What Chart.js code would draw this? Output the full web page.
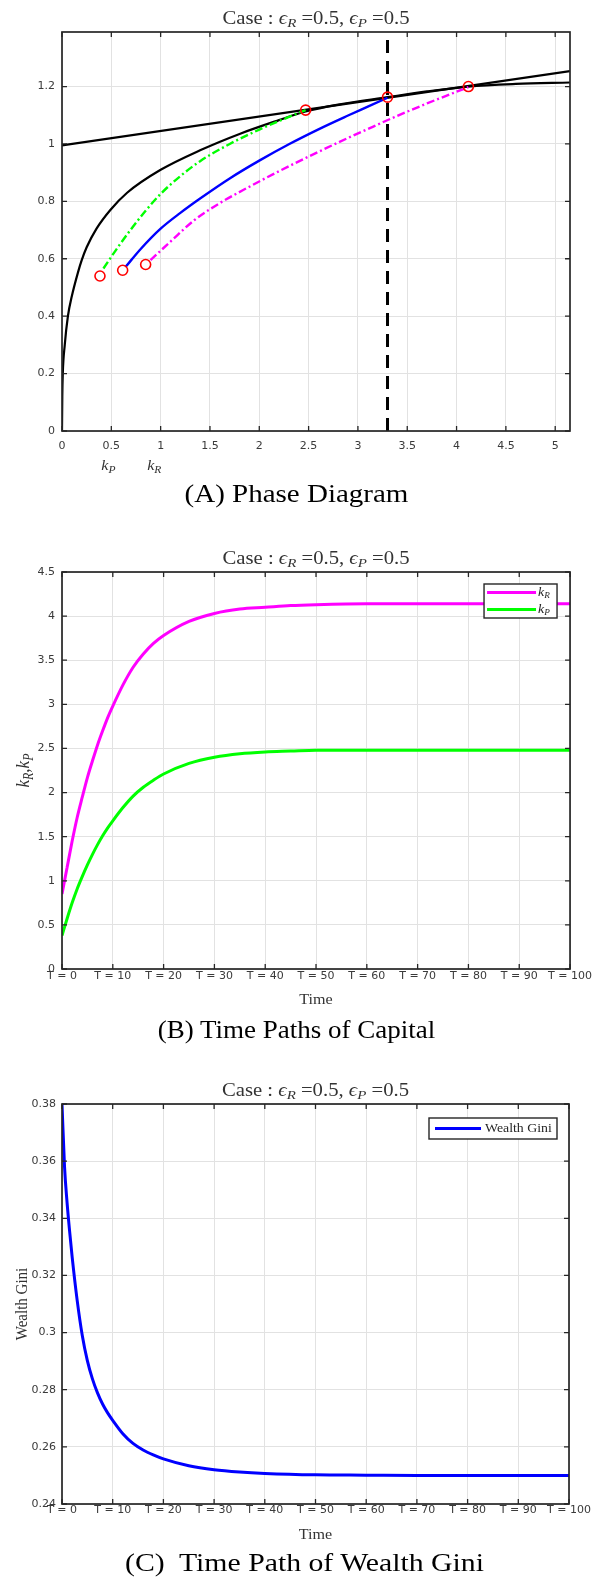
<!DOCTYPE html>
<html>
<head>
<meta charset="utf-8">
<title>Phase diagram and time paths</title>
<script src="https://cdn.jsdelivr.net/npm/chart.js@4.4.1/dist/chart.umd.min.js"></script>
<style>
    body { margin: 0; background: #fff; }
    .page { position: relative; width: 593px; height: 1580px; overflow: hidden; }
    canvas { position: absolute; left: 0; }
    .caption {
        position: absolute; left: 0; width: 593px; text-align: center;
        font-family: "Liberation Serif", "Times New Roman", serif;
        font-size: 25px; line-height: 30px; color: #000;
        transform: scaleX(1.16);
    }
</style>
</head>
<body>
<div class="page">
    <canvas id="phaseChart" width="593" height="480" style="top:0px"></canvas>
    <canvas id="capitalChart" width="593" height="490" style="top:530px"></canvas>
    <canvas id="giniChart" width="593" height="490" style="top:1060px"></canvas>
    <div class="caption" style="top:479px">(A) Phase Diagram</div>
    <div class="caption" style="top:1015px; transform: scaleX(1.08);">(B) Time Paths of Capital</div>
    <div class="caption" style="top:1548px; left:8px; transform: scaleX(1.19);">(C)&nbsp; Time Path of Wealth Gini</div>
</div>
<script>
// ---- (A) phase diagram ----
const phaseXTicks = [0, 0.5, 1, 1.5, 2, 2.5, 3, 3.5, 4, 4.5, 5];
const phaseYTicks = [0, 0.2, 0.4, 0.6, 0.8, 1, 1.2];

// straight locus
const lineK = [0, 5.15];
const lineC = [0.995, 1.254];

// concave locus
const curveK = [0, 0.003, 0.008, 0.028, 0.06, 0.1, 0.16, 0.2, 0.25, 0.35, 0.49, 0.66, 1.0, 1.4, 1.8, 2.2, 2.47, 2.8, 3.3, 3.7, 4.12, 4.6, 5.15];
const curveC = [0, 0.12, 0.2, 0.3, 0.4, 0.47, 0.55, 0.595, 0.64, 0.705, 0.77, 0.83, 0.91, 0.978, 1.035, 1.083, 1.113, 1.137, 1.163, 1.183, 1.2, 1.209, 1.214];

// trajectories
const greenK = [0.42, 0.55, 0.7, 0.85, 1.0, 1.2, 1.4, 1.7, 2.0, 2.25, 2.47];
const greenC = [0.566, 0.632, 0.703, 0.768, 0.826, 0.888, 0.94, 1.0, 1.05, 1.087, 1.118];
const blueK = [0.643, 0.8, 1.0, 1.2, 1.4, 1.7, 2.0, 2.3, 2.6, 2.9, 3.1, 3.3];
const blueC = [0.571, 0.635, 0.705, 0.76, 0.81, 0.88, 0.942, 0.999, 1.051, 1.099, 1.13, 1.161];
const magentaK = [0.897, 1.1, 1.34, 1.6, 1.9, 2.2, 2.5, 2.8, 3.1, 3.4, 3.7, 4.0, 4.12];
const magentaC = [0.595, 0.66, 0.734, 0.794, 0.851, 0.905, 0.956, 1.005, 1.052, 1.098, 1.141, 1.182, 1.198];

// red circles (start and steady state points)
const circleK = [0.385, 0.615, 0.848, 2.47, 3.3, 4.12];
const circleC = [0.54, 0.56, 0.58, 1.118, 1.163, 1.2];

// vertical dashed line
const dashK = [3.3, 3.3];
const dashC = [0, 1.39];

// ---- (B) time paths of capital ----
const timeTicks = [0, 10, 20, 30, 40, 50, 60, 70, 80, 90, 100];
const capitalYTicks = [0, 0.5, 1, 1.5, 2, 2.5, 3, 3.5, 4, 4.5];
const capTime = [0, 1, 2, 3, 4, 5, 6, 7, 8, 9, 10, 12, 14, 16, 18, 20, 25, 30, 35, 40, 45, 50, 60, 70, 80, 90, 100];
const kRPath = [0.85, 1.15, 1.45, 1.72, 1.95, 2.17, 2.36, 2.54, 2.70, 2.85, 2.98, 3.22, 3.42, 3.57, 3.69, 3.78, 3.94, 4.03, 4.08, 4.10, 4.12, 4.13, 4.14, 4.14, 4.14, 4.14, 4.14];
const kPPath = [0.38, 0.57, 0.75, 0.91, 1.05, 1.18, 1.30, 1.41, 1.51, 1.60, 1.68, 1.83, 1.96, 2.06, 2.14, 2.21, 2.33, 2.40, 2.44, 2.46, 2.47, 2.48, 2.48, 2.48, 2.48, 2.48, 2.48];

// ---- (C) wealth gini ----
const giniYTicks = [0.24, 0.26, 0.28, 0.3, 0.32, 0.34, 0.36, 0.38];
const giniTime = [0, 0.5, 1, 1.5, 2, 3, 4, 5, 6, 7, 8, 9, 10, 12, 14, 16, 18, 20, 25, 30, 35, 40, 50, 60, 70, 80, 90, 100];
const giniPath = [0.380, 0.358, 0.3455, 0.3355, 0.3265, 0.3112, 0.299, 0.2902, 0.2838, 0.2789, 0.275, 0.2719, 0.2693, 0.2646, 0.2612, 0.2589, 0.2572, 0.2558, 0.2534, 0.252, 0.2512, 0.2507, 0.2502, 0.2501, 0.25, 0.25, 0.25, 0.25];

const serif = '"Liberation Serif", "Times New Roman", serif';
const tickFont = { family: '"DejaVu Sans", sans-serif', size: 11 };
const gridColor = '#e2e2e2';

const caseTitle = [['Case : ', ''], ['\u03f5', 'i'], ['R', 'is'], [' =0.5, ', ''], ['\u03f5', 'i'], ['P', 'is'], [' =0.5', '']];

function points(xs, ys) {
    return xs.map((x, i) => ({ x: x, y: ys[i] }));
}

// parts: [text, style], style 'i' = italic, 's' = subscript
function drawRich(ctx, parts, x, y, o) {
    const size = o.size;
    const fontOf = st => (st.includes('i') ? 'italic ' : '') + (st.includes('s') ? Math.round(size * 0.7) : size) + 'px ' + serif;
    ctx.save();
    ctx.translate(x, y);
    if (o.rotate) {
        ctx.rotate(-Math.PI / 2);
        ctx.scale(1, 1.15);
    } else {
        ctx.scale(1.15, 1);
    }
    ctx.fillStyle = o.color || '#262626';
    ctx.textBaseline = 'middle';
    ctx.textAlign = 'left';
    let total = 0;
    const widths = parts.map(p => {
        ctx.font = fontOf(p[1]);
        const w = ctx.measureText(p[0]).width;
        total += w;
        return w;
    });
    let cx = o.align === 'left' ? 0 : -total / 2;
    parts.forEach((p, i) => {
        ctx.font = fontOf(p[1]);
        ctx.fillText(p[0], cx, p[1].includes('s') ? size * 0.28 : 0);
        cx += widths[i];
    });
    ctx.restore();
}

function decor(cfg) {
    return {
        id: 'decor',
        afterDatasetsDraw(chart) {
            const ctx = chart.ctx;
            const a = chart.chartArea;
            const xs = chart.scales.x, ys = chart.scales.y;
            ctx.save();
            ctx.strokeStyle = '#262626';
            ctx.lineWidth = 1.3;
            ctx.beginPath();
            xs.ticks.forEach(t => {
                const px = xs.getPixelForValue(t.value);
                ctx.moveTo(px, a.bottom); ctx.lineTo(px, a.bottom - 5);
                ctx.moveTo(px, a.top); ctx.lineTo(px, a.top + 5);
            });
            ys.ticks.forEach(t => {
                const py = ys.getPixelForValue(t.value);
                ctx.moveTo(a.left, py); ctx.lineTo(a.left + 5, py);
                ctx.moveTo(a.right, py); ctx.lineTo(a.right - 5, py);
            });
            ctx.stroke();
            ctx.lineWidth = 1.7;
            ctx.strokeRect(a.left, a.top, a.right - a.left, a.bottom - a.top);
            ctx.restore();
        },
        afterDraw(chart) {
            const ctx = chart.ctx;
            const a = chart.chartArea;
            const midX = (a.left + a.right) / 2;
            const midY = (a.top + a.bottom) / 2;

            drawRich(ctx, caseTitle, midX, a.top - 13, { size: 18, color: '#333' });

            if (cfg.xLabel) {
                drawRich(ctx, cfg.xLabel, midX, a.bottom + 31, { size: 14, color: '#333' });
            }
            if (cfg.yLabel) {
                drawRich(ctx, cfg.yLabel, cfg.yLabelX, midY, { size: cfg.yLabelSize, color: '#333', rotate: true });
            }
            (cfg.notes || []).forEach(n => {
                drawRich(ctx, n.parts, chart.scales.x.getPixelForValue(n.x), a.bottom + n.dy, { size: 14, color: '#333' });
            });

            const lg = cfg.legend;
            if (lg) {
                const left = a.right - lg.dx - lg.w;
                const top = a.top + lg.dy;
                ctx.save();
                ctx.fillStyle = '#fff';
                ctx.fillRect(left, top, lg.w, lg.h);
                ctx.strokeStyle = '#262626';
                ctx.lineWidth = 1.4;
                ctx.strokeRect(left, top, lg.w, lg.h);
                lg.items.forEach((item, i) => {
                    const yy = top + lg.rows[i];
                    ctx.strokeStyle = chart.data.datasets[item.dataset].borderColor;
                    ctx.lineWidth = 3;
                    ctx.beginPath();
                    ctx.moveTo(left + lg.lineFrom, yy);
                    ctx.lineTo(left + lg.lineTo, yy);
                    ctx.stroke();
                    drawRich(ctx, item.parts, left + lg.textX, yy, { size: 12, align: 'left', color: '#262626' });
                });
                ctx.restore();
            }
        }
    };
}

function scaleOptions(min, max, tickList, fixSize, padding, label) {
    return {
        type: 'linear',
        min: min,
        max: max,
        afterBuildTicks: s => { s.ticks = tickList.map(v => ({ value: v })); },
        afterFit: s => {
            if (s.isHorizontal()) { s.height = fixSize; } else { s.width = fixSize; }
        },
        grid: { color: gridColor, lineWidth: 1, drawTicks: false },
        border: { display: false },
        ticks: {
            padding: padding,
            color: '#3a3a3a',
            font: tickFont,
            autoSkip: false,
            maxRotation: 0,
            callback: label
        }
    };
}

function commonOptions(padding, xScale, yScale) {
    return {
        responsive: false,
        animation: false,
        events: [],
        layout: { padding: padding },
        plugins: { legend: { display: false }, tooltip: { enabled: false }, title: { display: false } },
        scales: { x: xScale, y: yScale }
    };
}

const plain = v => String(v);

// (A)
new Chart(document.getElementById('phaseChart'), {
    type: 'scatter',
    data: {
        datasets: [{
            data: points(circleK, circleC),
            showLine: false,
            pointRadius: 5,
            pointBorderWidth: 1.6,
            pointBorderColor: '#ff0000',
            pointBackgroundColor: 'rgba(0,0,0,0)'
        }, {
            data: points(dashK, dashC),
            showLine: true,
            borderColor: '#000000',
            borderWidth: 3,
            borderDash: [13, 8],
            pointRadius: 0
        }, {
            data: points(blueK, blueC),
            showLine: true,
            borderColor: '#0000ff',
            borderWidth: 2.4,
            cubicInterpolationMode: 'monotone',
            pointRadius: 0
        }, {
            data: points(greenK, greenC),
            showLine: true,
            borderColor: '#00ff00',
            borderWidth: 2.4,
            borderDash: [8, 3, 2, 3],
            cubicInterpolationMode: 'monotone',
            pointRadius: 0
        }, {
            data: points(magentaK, magentaC),
            showLine: true,
            borderColor: '#ff00ff',
            borderWidth: 2.4,
            borderDash: [8, 3, 2, 3],
            cubicInterpolationMode: 'monotone',
            pointRadius: 0
        }, {
            data: points(lineK, lineC),
            showLine: true,
            borderColor: '#000000',
            borderWidth: 2.2,
            pointRadius: 0
        }, {
            data: points(curveK, curveC),
            showLine: true,
            borderColor: '#000000',
            borderWidth: 2.2,
            cubicInterpolationMode: 'monotone',
            pointRadius: 0
        }]
    },
    options: commonOptions(
        { top: 32, left: 0, right: 23, bottom: 29 },
        scaleOptions(0, 5.15, phaseXTicks, 20, 9, plain),
        scaleOptions(0, 1.39, phaseYTicks, 62, 7, plain)
    ),
    plugins: [decor({
        notes: [
            { parts: [['k', 'i'], ['P', 'is']], x: 0.47, dy: 35 },
            { parts: [['k', 'i'], ['R', 'is']], x: 0.935, dy: 35 }
        ]
    })]
});

// (B)
new Chart(document.getElementById('capitalChart'), {
    type: 'scatter',
    data: {
        datasets: [{
            label: 'kR',
            data: points(capTime, kRPath),
            showLine: true,
            borderColor: '#ff00ff',
            borderWidth: 3,
            cubicInterpolationMode: 'monotone',
            pointRadius: 0
        }, {
            label: 'kP',
            data: points(capTime, kPPath),
            showLine: true,
            borderColor: '#00ff00',
            borderWidth: 3,
            cubicInterpolationMode: 'monotone',
            pointRadius: 0
        }]
    },
    options: commonOptions(
        { top: 42, left: 0, right: 21, bottom: 31 },
        scaleOptions(0, 100, timeTicks, 20, 1, v => 'T = ' + v),
        scaleOptions(0, 4.5, capitalYTicks, 62, 7, plain)
    ),
    plugins: [decor({
        xLabel: [['Time', '']],
        yLabel: [['k', 'i'], ['R', 'is'], [',', ''], ['k', 'i'], ['P', 'is']],
        yLabelX: 24,
        yLabelSize: 17,
        legend: {
            w: 73, h: 34, dx: 13, dy: 12,
            rows: [8.5, 25.5],
            lineFrom: 3, lineTo: 52, textX: 54,
            items: [
                { dataset: 0, parts: [['k', 'i'], ['R', 'is']] },
                { dataset: 1, parts: [['k', 'i'], ['P', 'is']] }
            ]
        }
    })]
});

// (C)
new Chart(document.getElementById('giniChart'), {
    type: 'scatter',
    data: {
        datasets: [{
            label: 'Wealth Gini',
            data: points(giniTime, giniPath),
            showLine: true,
            borderColor: '#0000ff',
            borderWidth: 3,
            cubicInterpolationMode: 'monotone',
            pointRadius: 0
        }]
    },
    options: commonOptions(
        { top: 44, left: 0, right: 24, bottom: 26 },
        scaleOptions(0, 100, timeTicks, 20, 0, v => 'T = ' + v),
        scaleOptions(0.24, 0.38, giniYTicks, 62, 6, plain)
    ),
    plugins: [decor({
        xLabel: [['Time', '']],
        yLabel: [['Wealth Gini', '']],
        yLabelX: 22,
        yLabelSize: 15,
        legend: {
            w: 128, h: 21, dx: 12, dy: 14,
            rows: [10.5],
            lineFrom: 6, lineTo: 52, textX: 56,
            items: [
                { dataset: 0, parts: [['Wealth Gini', '']] }
            ]
        }
    })]
});
</script>
</body>
</html>
